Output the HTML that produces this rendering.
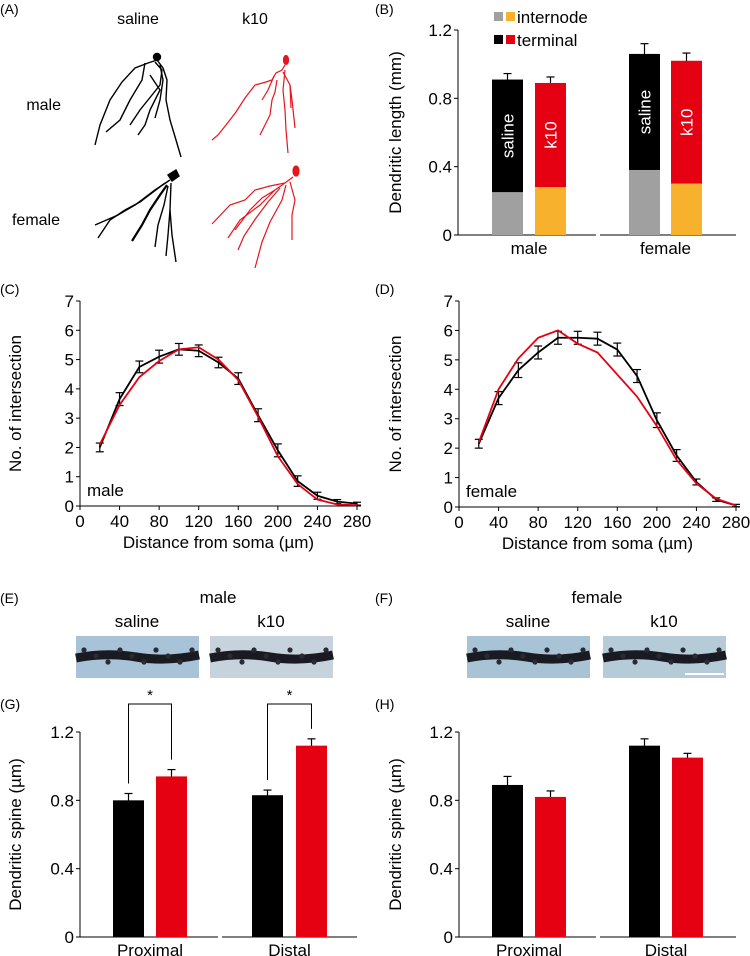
<!DOCTYPE html>
<html><head><meta charset="utf-8"><style>
html,body{margin:0;padding:0;background:#fff;}
svg{display:block;font-family:"Liberation Sans",Arial,sans-serif;}
</style></head><body>
<svg id="fig" width="750" height="956" viewBox="0 0 750 956">
<g font-size="16">
<text x="0" y="14" font-size="14">(A)</text>
<text x="138" y="24" text-anchor="middle">saline</text>
<text x="255" y="24" text-anchor="middle">k10</text>
<text x="60" y="110" text-anchor="end" font-size="16" transform="translate(1,0)">male</text>
<text x="60" y="225" text-anchor="end">female</text>
<g fill="none" stroke="#000" stroke-width="1.4">
<circle cx="157" cy="57" r="3.5" fill="#000"/>
<path d="M157 60 L148 63 L135 68 L122 82 L110 100 L100 125 L95 145"/>
<path d="M145 63 L142 80 L130 100 L120 120 L106 132"/>
<path d="M155 62 L162 70 L160 85 L152 95 L140 110 L130 125"/>
<path d="M157 60 L163 68 L167 80 L166 100 L170 120 L176 140 L181 157"/>
<path d="M160 65 L163 80 L160 100 L155 118"/>
<path d="M150 75 L160 90 L150 110 L145 125 L138 135"/>
</g>
<g fill="none" stroke="#e8141c" stroke-width="1.2">
<ellipse cx="286" cy="60" rx="2.5" ry="4.5" fill="#e8141c"/>
<path d="M285 65 L282 70 L276 73 L272 80 L266 82 L255 85 L245 98 L236 112 L226 125 L218 135 L212 140"/>
<path d="M274 76 L268 90 L262 100"/>
<path d="M285 70 L283 90 L285 110 L286 130 L288 153"/>
<path d="M283 72 L290 85 L292 100 L295 128"/>
<path d="M277 80 L275 92 L272 100 L270 115 L265 125 L260 135"/>
<path d="M290 85 L291 108"/>
</g>
<g fill="none" stroke="#000" stroke-width="1.4">
<path d="M168 175 L176 170 L179 176 L172 181 Z" fill="#000"/>
<path d="M170 180 L155 190 L135 205 L118 215 L95 225"/>
<path d="M165 183 L140 202 L125 210 L110 220 L98 238"/>
<path d="M167 185 L160 195 L150 210 L142 225 L132 241" stroke-width="2.2"/>
<path d="M168 186 L164 205 L158 225 L155 247"/>
<path d="M171 183 L170 210 L172 235 L176 262"/>
<path d="M170 210 L168 235 L166 256"/>
</g>
<g fill="none" stroke="#e8141c" stroke-width="1.2">
<ellipse cx="296" cy="171" rx="3" ry="5" fill="#e8141c"/>
<path d="M293 177 L285 183 L270 186 L255 190 L245 200 L230 205 L212 224"/>
<path d="M285 183 L275 190 L262 198 L250 210 L235 230"/>
<path d="M280 188 L268 202 L256 218 L244 236 L238 250"/>
<path d="M286 185 L282 200 L270 222 L262 242 L255 268"/>
<path d="M290 182 L295 200 L292 215 L292 240"/>
<path d="M275 190 L260 205 L240 220 L228 238"/>
</g>
</g>
<g id="root"></g>
</svg>
<script>
// ---- Panel B data ----
var bCats = ['male','female'];
var bTotalSaline = [0.91, 1.06];
var bTotalK10 = [0.89, 1.02];
var bInterSaline = [0.25, 0.38];
var bInterK10 = [0.28, 0.30];
var bErrSaline = [0.035, 0.06];
var bErrK10 = [0.035, 0.045];
var bTicks = [0, 0.4, 0.8, 1.2];
// ---- Panel C/D data ----
var sholX = [20,40,60,80,100,120,140,160,180,200,220,240,260,280];
var cSaline = [2.0,3.65,4.75,5.1,5.35,5.3,4.9,4.35,3.1,1.9,0.85,0.35,0.15,0.08];
var cK10 = [2.1,3.45,4.4,4.95,5.35,5.42,5.0,4.3,3.05,1.7,0.75,0.22,0.05,0.03];
var cErr = [0.15,0.22,0.2,0.22,0.2,0.2,0.18,0.2,0.22,0.22,0.18,0.12,0.07,0.05];
var dSaline = [2.15,3.7,4.65,5.25,5.75,5.75,5.72,5.35,4.45,2.95,1.75,0.85,0.25,0.05];
var dK10 = [2.2,4.0,5.05,5.75,6.0,5.55,5.25,4.5,3.75,2.75,1.6,0.8,0.28,0.05];
var dErr = [0.15,0.22,0.25,0.22,0.22,0.22,0.22,0.22,0.22,0.25,0.2,0.1,0.06,0.04];
var sholXTicks = [0,40,80,120,160,200,240,280];
var sholYTicks = [0,1,2,3,4,5,6,7];
// ---- Panel G/H data ----
var spineCats = ['Proximal','Distal'];
var gSaline = [0.80, 0.83];
var gK10 = [0.94, 1.12];
var gErrSaline = [0.04, 0.03];
var gErrK10 = [0.04, 0.04];
var hSaline = [0.89, 1.12];
var hK10 = [0.82, 1.05];
var hErrSaline = [0.05, 0.04];
var hErrK10 = [0.035, 0.025];
var spineTicks = [0, 0.4, 0.8, 1.2];

var FS=17;
var NS='http://www.w3.org/2000/svg', root=document.getElementById('root');
function mk(tag,attrs,parent,txt){var e=document.createElementNS(NS,tag);for(var k in attrs)e.setAttribute(k,attrs[k]);if(txt!=null)e.textContent=txt;(parent||root).appendChild(e);return e;}
function line(x1,y1,x2,y2,p,c,w){return mk('line',{x1:x1,y1:y1,x2:x2,y2:y2,stroke:c||'#000','stroke-width':w||1.2},p);}
function errbar(x,y1,y2,p){line(x,y1,x,y2,p,'#000',1.2);line(x-4,y1,x+4,y1,p,'#000',1.2);line(x-4,y2,x+4,y2,p,'#000',1.2);}
function yAxis(g,ax,y0,y1,vmax,ticks,fmt,title,tx){
  var ys=function(v){return y0-(y0-y1)*v/vmax;};
  var a=line(ax,y0,ax,y1,g,'#000',1);
  ticks.forEach(function(t){line(ax-4,ys(t),ax,ys(t),g,'#000',1);var tl=mk('text',{x:ax-6,y:ys(t)+6,'text-anchor':'end','font-size':FS},g,fmt(t));});
  var ti=mk('text',{x:0,y:0,transform:'translate('+tx+','+((y0+y1)/2)+') rotate(-90)','text-anchor':'middle','font-size':FS},g,title);
  
  return ys;
}
function fmtDec(t){return t===0?'0':t.toFixed(1);}

// Panel B
(function(){
  var g=mk('g',{});
  var l=mk('text',{x:375,y:14,'font-size':14},g,'(B)');
  var ys=yAxis(g,458,235,30,1.2,bTicks,fmtDec,'Dendritic length (mm)',401);
  var groups=[[492,535],[629,671]], segs=[[458,596],[600,736]];
  bCats.forEach(function(c,i){
    var s=line(segs[i][0],235,segs[i][1],235,g,'#000',1);
    var specs=[[bTotalSaline[i],bInterSaline[i],bErrSaline[i],'#000','#a0a0a0','saline'],[bTotalK10[i],bInterK10[i],bErrK10[i],'#e50012','#f7b12d','k10']];
    specs.forEach(function(sp,j){
      var x=groups[i][j],w=31;
      errbar(x+w/2,ys(sp[0]+sp[2]),ys(sp[0]-sp[2]),g);
      var r1=mk('rect',{x:x,y:ys(sp[0]),width:w,height:ys(sp[1])-ys(sp[0]),fill:sp[3]},g);
      
      var r2=mk('rect',{x:x,y:ys(sp[1]),width:w,height:235-ys(sp[1]),fill:sp[4]},g);
      
      var cy=(ys(sp[0])+ys(sp[1]))/2;
      var t=mk('text',{x:0,y:0,transform:'translate('+(x+w/2+6)+','+cy+') rotate(-90)','text-anchor':'middle','font-size':FS,fill:'#fff'},g,sp[5]);
      
    });
    var cl=mk('text',{x:(groups[i][0]+groups[i][1]+31)/2,y:254,'text-anchor':'middle','font-size':FS},g,c);
    
  });
  var lg=mk('g',{},g);
  mk('rect',{x:494,y:12,width:9,height:9,fill:'#a0a0a0'},lg);mk('rect',{x:506,y:12,width:9,height:9,fill:'#f7b12d'},lg);
  mk('rect',{x:494,y:35,width:9,height:9,fill:'#000'},lg);mk('rect',{x:506,y:35,width:9,height:9,fill:'#e50012'},lg);
  var e1=mk('text',{x:517,y:23,'font-size':FS},lg,'internode');
  var e2=mk('text',{x:517,y:46,'font-size':FS},lg,'terminal');
})();

// Panels C, D
function shollPanel(name,lab,lx,ax,y0,y1,xEnd,sal,k10,err,sexLabel,tx){
  var g=mk('g',{});
  var l=mk('text',{x:lx,y:294,'font-size':14},g,lab);
  var ys=yAxis(g,ax,y0,y1,7,sholYTicks,function(t){return ''+t;},'No. of intersection',tx);
  var xs=function(v){return ax+(xEnd-ax)*v/280;};
  var xa=line(ax,y0,xEnd+4,y0,g,'#000',1);
  sholXTicks.forEach(function(t){line(xs(t),y0,xs(t),y0+4,g,'#000',1);var tl=mk('text',{x:xs(t),y:y0+21,'text-anchor':'middle','font-size':FS},g,''+t);});
  var xt=mk('text',{x:(ax+xEnd)/2,y:y0+42,'text-anchor':'middle','font-size':FS},g,'Distance from soma (\u00b5m)');
  var sl=mk('text',{x:ax+7,y:y0-10,'font-size':FS},g,sexLabel);
  sholX.forEach(function(x,i){errbar(xs(x),ys(sal[i]+err[i]),ys(sal[i]-err[i]),g);});
  var ps=sholX.map(function(x,i){return xs(x)+','+ys(sal[i]);}).join(' ');
  var p1=mk('polyline',{points:ps,fill:'none',stroke:'#000','stroke-width':1.8},g);
  var pk=sholX.map(function(x,i){return xs(x)+','+ys(k10[i]);}).join(' ');
  var p2=mk('polyline',{points:pk,fill:'none',stroke:'#e50012','stroke-width':1.8},g);
}
shollPanel('panel-c','(C)',0,80,506,301,357,cSaline,cK10,cErr,'male',21);
shollPanel('panel-d','(D)',375,459,507,301,736,dSaline,dK10,dErr,'female',401);

// Panels E, F (images)
function spinePanel(name,lab,lx,title,tx,imgs,bgs){
  var g=mk('g',{});
  var l=mk('text',{x:lx,y:603,'font-size':14},g,lab);
  var t=mk('text',{x:tx,y:603,'text-anchor':'middle','font-size':FS},g,title);
  ['saline','k10'].forEach(function(n,i){
    var x=imgs[i];
    var tl=mk('text',{x:x+61,y:627,'text-anchor':'middle','font-size':FS},g,n);
    var r=mk('rect',{x:x,y:636,width:123,height:42,fill:bgs[i]},g);
    mk('path',{d:'M'+x+' 658 Q'+(x+30)+' 652 '+(x+60)+' 657 T'+(x+123)+' 655',stroke:'#1a1a22','stroke-width':9,fill:'none'},g);
    for(var k=0;k<10;k++){mk('circle',{cx:x+8+k*12,cy:650+(k%3)*6,r:2.6,fill:'#2a2a33'},g);}
  });
}
spinePanel('panel-e','(E)',0,'male',218,[76,210],['#a8c2d8','#c6d3dc']);
spinePanel('panel-f','(F)',375,'female',597,[467,603],['#a9c3d6','#b5ccd8']);
var sb=line(685,674,724,674,root,'#fff',2);

// Panels G, H
function spineBars(name,lab,lx,ax,groups,segs,sal,k10,es,ek,stars,tx){
  var g=mk('g',{});
  var l=mk('text',{x:lx,y:709,'font-size':14},g,lab);
  var ys=yAxis(g,ax,937,732,1.2,spineTicks,fmtDec,'Dendritic spine (\u00b5m)',tx);
  spineCats.forEach(function(c,i){
    var s=line(segs[i][0],937,segs[i][1],937,g,'#000',1);
    var vals=[[sal[i],es[i],'#000','saline'],[k10[i],ek[i],'#e50012','k10']];
    vals.forEach(function(v,j){
      var x=groups[i][j],w=31;
      errbar(x+w/2,ys(v[0]+v[1]),ys(v[0]-v[1]),g);
      var r=mk('rect',{x:x,y:ys(v[0]),width:w,height:937-ys(v[0]),fill:v[2]},g);
      
    });
    var cl=mk('text',{x:(groups[i][0]+groups[i][1]+31)/2,y:956,'text-anchor':'middle','font-size':FS},g,c);
    
    if(stars){
      var xa=groups[i][0]+15.5,xb=groups[i][1]+15.5,top=704;
      var br=mk('polyline',{points:xa+','+(ys(sal[i]+es[i])-10)+' '+xa+','+top+' '+xb+','+top+' '+xb+','+(ys(k10[i]+ek[i])-10),fill:'none',stroke:'#000','stroke-width':1},g);
      
      var st=mk('text',{x:(xa+xb)/2,y:700,'text-anchor':'middle','font-size':15},g,'*');
    }
  });
}
spineBars('panel-g','(G)',0,80,[[113,156],[252,296]],[[80,218],[222,357]],gSaline,gK10,gErrSaline,gErrK10,true,21);
spineBars('panel-h','(H)',375,459,[[492,535],[629,672]],[[459,596],[600,736]],hSaline,hK10,hErrSaline,hErrK10,false,401);
</script>
</body></html>
